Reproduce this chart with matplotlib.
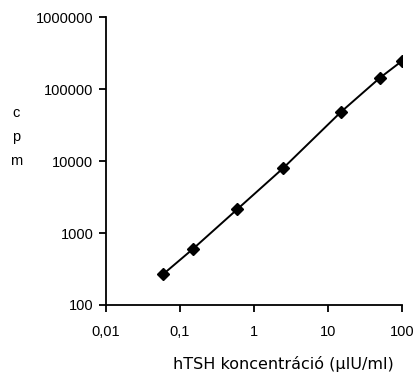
import matplotlib
matplotlib.use("Agg")
import matplotlib.pyplot as plt
from matplotlib.ticker import FixedLocator, FixedFormatter, NullLocator

conc = [0.06, 0.15, 0.6, 2.5, 15, 50, 100]
cpm = [270, 600, 2150, 8000, 48000, 142000, 245000]
xticks = [0.01, 0.1, 1, 10, 100]
xlabels = ["0,01", "0,1", "1", "10", "100"]
yticks = [100, 1000, 10000, 100000, 1000000]
ylabels = ["100", "1000", "10000", "100000", "1000000"]

plt.rcParams['font.family'] = ['Liberation Sans', 'DejaVu Sans']
fig = plt.figure(figsize=(4.2, 3.74), dpi=100)
ax = fig.add_axes([0.252, 0.1845, 0.705, 0.77])
ax.set_xscale('log')
ax.set_yscale('log')
ax.plot(conc, cpm, color='black', lw=1.4, marker='D', ms=6.5, mfc='black', mec='black')
ax.set_xlim(0.01, 100)
ax.set_ylim(100, 1000000)
ax.xaxis.set_major_locator(FixedLocator(xticks))
ax.xaxis.set_major_formatter(FixedFormatter(xlabels))
ax.yaxis.set_major_locator(FixedLocator(yticks))
ax.yaxis.set_major_formatter(FixedFormatter(ylabels))
ax.xaxis.set_minor_locator(NullLocator())
ax.yaxis.set_minor_locator(NullLocator())
for s in ['top', 'right']:
    ax.spines[s].set_visible(False)
for s in ['left', 'bottom']:
    ax.spines[s].set_linewidth(1.3)
ax.tick_params(direction='out', length=5, width=1.3, labelsize=10.5, pad=4)
ax.tick_params(axis='x', pad=9.5)
fig.text(0.038, 0.634, "c\np\nm", fontsize=10.5, ha='center', va='center', linespacing=1.88)
fig.text(0.674, 0.006, "hTSH koncentráció (µIU/ml)", fontsize=11.5, ha='center', va='bottom',
         family=['DejaVu Sans'])
fig.savefig("out.png", dpi=100)
